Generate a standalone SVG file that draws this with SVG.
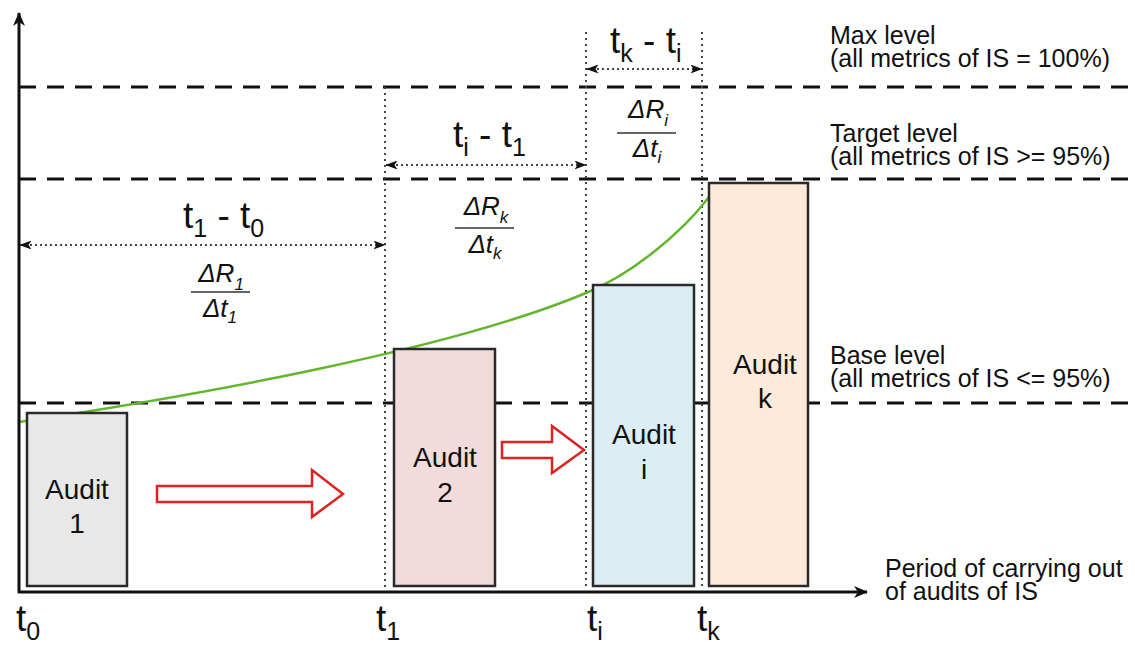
<svg xmlns="http://www.w3.org/2000/svg" width="1135" height="646" viewBox="0 0 1135 646">
<defs>
<marker id="axisHead" viewBox="0 0 14 12" refX="13" refY="6" markerWidth="14" markerHeight="12" markerUnits="userSpaceOnUse" orient="auto"><path d="M0,0 L14,6 L0,12 L4,6 z" fill="#111"/></marker>
<marker id="dimHead" viewBox="0 0 12 9" refX="11.5" refY="4.5" markerWidth="12" markerHeight="9" markerUnits="userSpaceOnUse" orient="auto-start-reverse"><path d="M0,0 L12,4.5 L0,9 L3,4.5 z" fill="#111"/></marker>
</defs>
<style>
text{font-family:"Liberation Sans",Arial,sans-serif;fill:#111;}
.lvl{stroke:#111;stroke-width:3;stroke-dasharray:17 11;fill:none;}
.vdot{stroke:#444;stroke-width:2;stroke-dasharray:2 4;fill:none;}
.dim{stroke:#444;stroke-width:2;stroke-dasharray:2 3;fill:none;marker-start:url(#dimHead);marker-end:url(#dimHead);}
.axis{stroke:#111;stroke-width:3;fill:none;marker-end:url(#axisHead);}
.box{stroke:#2a2a2a;stroke-width:2.5;}
.blk{fill:#fff;stroke:#dd2222;stroke-width:2.5;}
.aud{font-size:28px;text-anchor:middle;}
.tl{font-size:37px;}
.ts{font-size:25px;}
.fr{font-size:26px;font-style:italic;text-anchor:middle;}
.frs{font-size:17px;}
.fl{stroke:#333;stroke-width:1.5;}
.lab{font-size:25px;}
</style>

<g id="levels">
<line class="lvl" x1="19" y1="87" x2="1135" y2="87"/>
<line class="lvl" x1="19" y1="179" x2="1135" y2="179"/>
<line class="lvl" x1="19" y1="403" x2="1135" y2="403"/>
</g>
<g id="time-marks">
<line class="vdot" x1="385" y1="87" x2="385" y2="590"/>
<line class="vdot" x1="586" y1="32" x2="586" y2="590"/>
<line class="vdot" x1="702" y1="32" x2="702" y2="590"/>
</g>

<g id="growth-curve">
<path d="M19,422 C200,395 450,350 586,293 C630,275 680,235 709,197" fill="none" stroke="#62b62e" stroke-width="2.5"/>
</g>

<g id="audit1"><rect class="box" x="27" y="413" width="100" height="173" fill="#e8e8e8"/>
<text class="aud" x="77" y="499">Audit</text><text class="aud" x="77" y="533">1</text></g>
<g id="audit2"><rect class="box" x="394" y="349" width="101" height="237" fill="#f2dcdb"/>
<text class="aud" x="445" y="467">Audit</text><text class="aud" x="445" y="502">2</text></g>
<g id="auditi"><rect class="box" x="593" y="285" width="101" height="301" fill="#dbeef4"/>
<text class="aud" x="644" y="444">Audit</text><text class="aud" x="644" y="479">i</text></g>
<g id="auditk"><rect class="box" x="709" y="183" width="99" height="403" fill="#fdeada"/>
<text class="aud" x="765" y="374">Audit</text><text class="aud" x="765" y="408">k</text></g>

<g id="connectors">
<polygon class="blk" points="157,486 312,486 312,470 343,494 312,517 312,502 157,502"/>
<polygon class="blk" points="502,442 552,442 552,426 584,450 552,473 552,458 502,458"/>
<line class="dim" x1="20" y1="245" x2="385" y2="245"/>
<line class="dim" x1="386" y1="165" x2="586" y2="165"/>
<line class="dim" x1="587" y1="69" x2="702" y2="69"/>
<line class="axis" x1="19" y1="593" x2="19" y2="13"/>
<line class="axis" x1="18" y1="592" x2="867" y2="592"/>
</g>

<g id="intervals">
<text class="tl" x="183" y="228">t<tspan class="ts" dy="9">1</tspan><tspan dy="-9"> - t</tspan><tspan class="ts" dy="9">0</tspan></text>
<text class="tl" x="453" y="147">t<tspan class="ts" dy="9">i</tspan><tspan dy="-9"> - t</tspan><tspan class="ts" dy="9">1</tspan></text>
<text class="tl" x="610" y="53">t<tspan class="ts" dy="9">k</tspan><tspan dy="-9"> - t</tspan><tspan class="ts" dy="9">i</tspan></text>
</g>

<g id="rates">
<text class="fr" x="221" y="282">ΔR<tspan class="frs" dy="8">1</tspan></text>
<line class="fl" x1="191" y1="292" x2="250" y2="292"/>
<text class="fr" x="220" y="317">Δt<tspan class="frs" dy="6">1</tspan></text>
<text class="fr" x="486" y="215">ΔR<tspan class="frs" dy="8">k</tspan></text>
<line class="fl" x1="455" y1="228" x2="514" y2="228"/>
<text class="fr" x="485" y="253">Δt<tspan class="frs" dy="6">k</tspan></text>
<text class="fr" x="648" y="118">ΔR<tspan class="frs" dy="8">i</tspan></text>
<line class="fl" x1="617" y1="133" x2="676" y2="133"/>
<text class="fr" x="647" y="157">Δt<tspan class="frs" dy="6">i</tspan></text>
</g>

<g id="time-labels">
<text class="tl" x="16" y="631">t<tspan class="ts" dy="9">0</tspan></text>
<text class="tl" x="376" y="631">t<tspan class="ts" dy="9">1</tspan></text>
<text class="tl" x="587" y="631">t<tspan class="ts" dy="9">i</tspan></text>
<text class="tl" x="697" y="631">t<tspan class="ts" dy="9">k</tspan></text>
</g>

<g id="level-labels">
<text class="lab" x="830" y="44">Max level</text>
<text class="lab" x="830" y="67">(all metrics of IS = 100%)</text>
<text class="lab" x="830" y="142">Target level</text>
<text class="lab" x="830" y="165">(all metrics of IS &gt;= 95%)</text>
<text class="lab" x="830" y="364">Base level</text>
<text class="lab" x="830" y="387">(all metrics of IS &lt;= 95%)</text>
<text class="lab" x="885" y="577">Period of carrying out</text>
<text class="lab" x="885" y="600">of audits of IS</text>
</g>
</svg>
